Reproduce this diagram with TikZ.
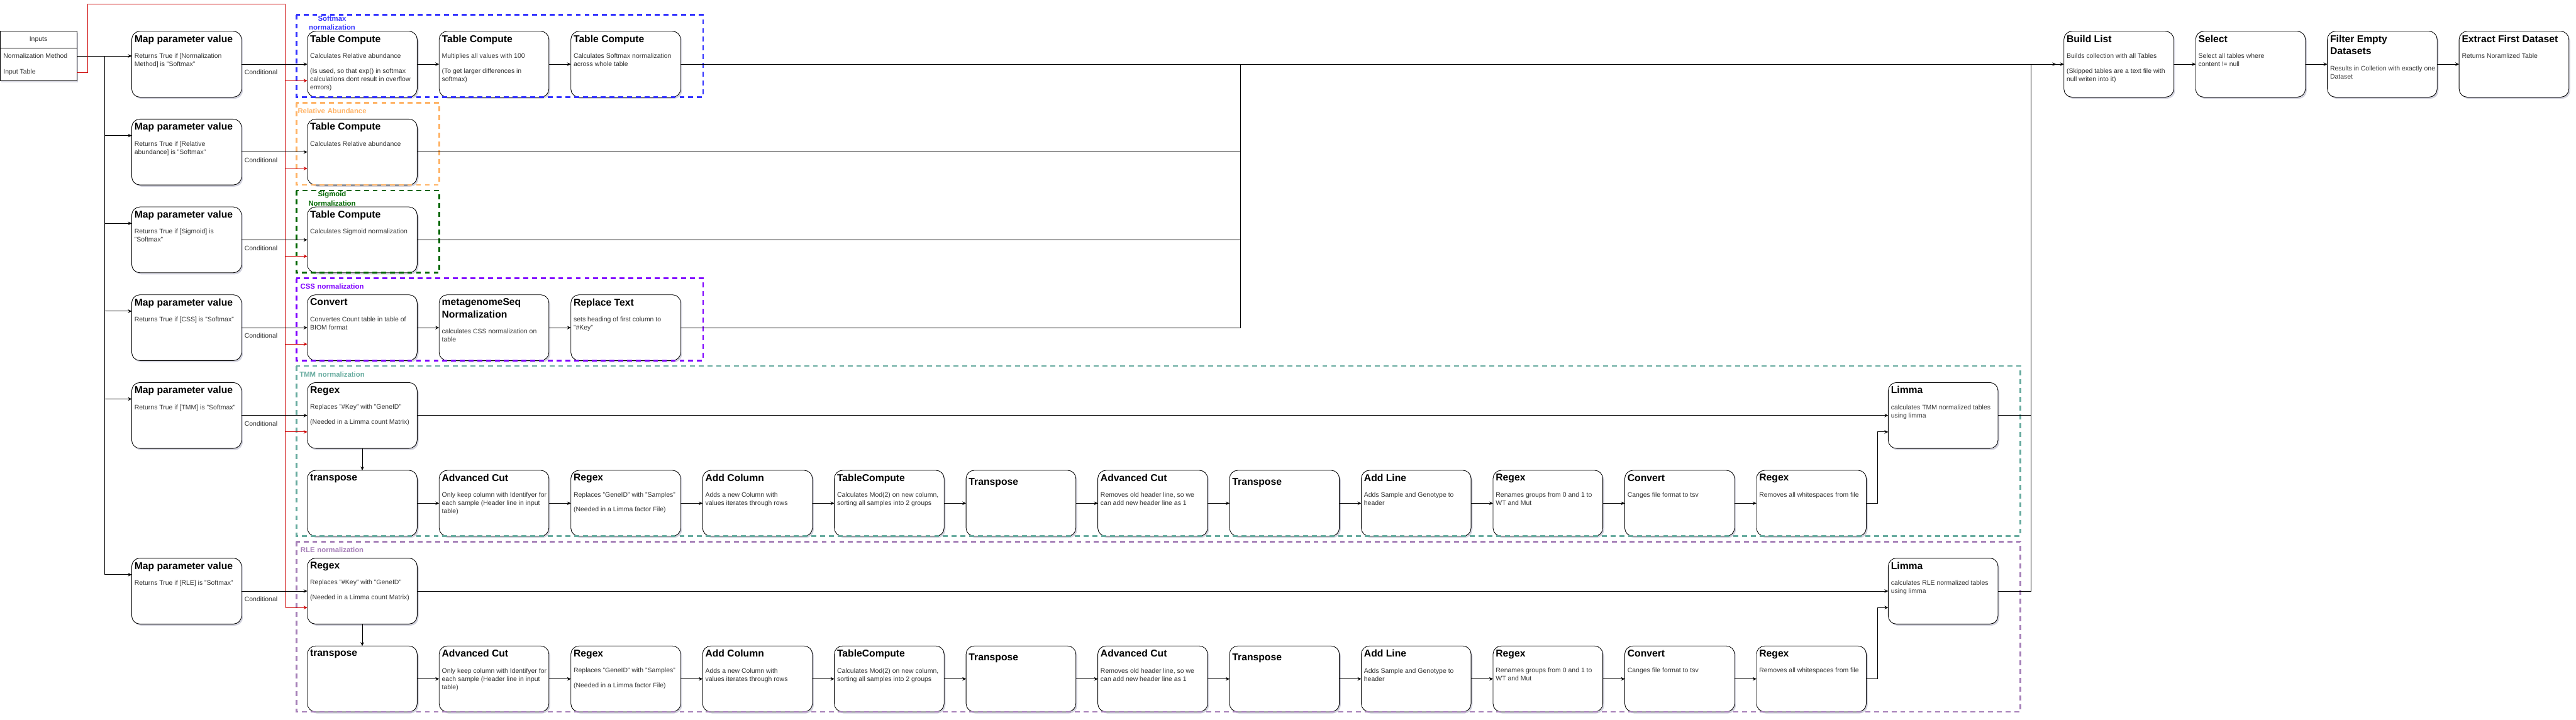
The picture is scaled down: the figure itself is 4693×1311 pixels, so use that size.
\documentclass[tikz,border=0pt]{standalone}
\usepackage{fontspec}
\setmainfont{Liberation Sans}
\usetikzlibrary{positioning, arrows.meta, shadows}
\definecolor{softcol}{HTML}{3333FF}
\definecolor{relcol}{HTML}{FFB366}
\definecolor{sigcol}{HTML}{006600}
\definecolor{csscol}{HTML}{7F00FF}
\definecolor{tmmcol}{HTML}{67AB9F}
\definecolor{rlecol}{HTML}{A680B8}
\definecolor{redcol}{HTML}{CC0000}
\newcommand{\ttlfont}{\fontsize{18}{22.5}\selectfont\bfseries}
\newcommand{\bdyfont}{\fontsize{12}{15}\selectfont\mdseries\color{black!80}}
\newcommand{\stage}[2]{\makebox[190pt][l]{\parbox[t][106pt][t]{220pt}{\raggedright\hyphenpenalty=10000 \ttlfont #1\par\vspace{14pt}\bdyfont #2}}}
\tikzset{
  stagebox/.style={draw, fill=white, rounded corners=15pt, line width=1pt,
    inner xsep=5pt, inner ysep=7pt, outer sep=0pt, anchor=north west,
    drop shadow={shadow xshift=2.5pt, shadow yshift=-3pt, opacity=.3, fill=blue!15!gray}},
  inbox/.style={draw, fill=white, line width=1pt, minimum width=140pt, minimum height=90pt,
    outer sep=0pt, anchor=north west,
    drop shadow={shadow xshift=2.5pt, shadow yshift=-3pt, opacity=.3, fill=blue!15!gray}},
  intext/.style={font=\fontsize{12}{14}\selectfont, text=black!80, inner sep=0pt, anchor=west},
  wire/.style={line width=1pt},
  flow/.style={wire, -{Stealth[length=7pt, width=6.5pt, inset=2.5pt]}},
  redflow/.style={flow, draw=redcol},
  condlabel/.style={font=\fontsize{12}{14}\selectfont, text=black!80, inner sep=0pt,
    anchor=north west, xshift=5pt, yshift=-10pt},
  grpframe/.style={line width=3pt, dash pattern=on 9pt off 7pt},
  grplabel/.style={font=\fontsize{13}{16.5}\selectfont\bfseries, text width=130pt,
    align=center, inner sep=0pt}
}

\begin{document}
\begin{tikzpicture}[x=1pt, y=-1pt]
  \useasboundingbox (0,0) rectangle (4693,1311);

  % inputs
  \node[inbox] (inputs) at (0,57) {};
  \draw[wire] (inputs.west |- 0,88) -- (inputs.east |- 0,88);
  \node[intext, anchor=center] (inhead) at (70,72) {Inputs};
  \node[intext] (normrow) at (6,102) {Normalization Method};
  \node[intext] (tabrow) at (6,132) {Input Table};

  % switches
  \node[stagebox] (map1) at (240,57) {\stage{Map parameter value}{Returns True if [Normalization\\Method] is "Softmax"}};
  \node[stagebox] (map2) at (240,217) {\stage{Map parameter value}{Returns True if [Relative\\abundance] is "Softmax"}};
  \node[stagebox] (map3) at (240,377) {\stage{Map parameter value}{Returns True if [Sigmoid] is\\"Softmax"}};
  \node[stagebox] (map4) at (240,537) {\stage{Map parameter value}{Returns True if [CSS] is "Softmax"}};
  \node[stagebox] (map5) at (240,697) {\stage{Map parameter value}{Returns True if [TMM] is "Softmax"}};
  \node[stagebox] (map6) at (240,1017) {\stage{Map parameter value}{Returns True if [RLE] is "Softmax"}};

  % softmax
  \node[stagebox] (soft1) at (560,57) {\stage{Table Compute}{Calculates Relative abundance\\[12pt](Is used, so that exp() in softmax\\calculations dont result in overflow\\errrors)}};
  \node[stagebox, right=40pt of soft1] (soft2) {\stage{Table Compute}{Multiplies all values with 100\\[12pt](To get larger differences in\\softmax)}};
  \node[stagebox, right=40pt of soft2] (soft3) {\stage{Table Compute}{Calculates Softmax normalization\\across whole table}};

  % relative abundance, sigmoid
  \node[stagebox] (rel1) at (560,217) {\stage{Table Compute}{Calculates Relative abundance}};
  \node[stagebox] (sig1) at (560,377) {\stage{Table Compute}{Calculates Sigmoid normalization}};

  % css
  \node[stagebox] (css1) at (560,537) {\stage{Convert}{Convertes Count table in table of\\BIOM format}};
  \node[stagebox, right=40pt of css1] (css2) {\stage{metagenomeSeq\\Normalization}{calculates CSS normalization on\\table}};
  \node[stagebox, right=40pt of css2] (css3) {\stage{Replace Text}{sets heading of first column to\\"\#Key"}};

  % tmm
  \node[stagebox] (tmmregex) at (560,697) {\stage{Regex}{Replaces "\#Key" with "GeneID"\\[12pt](Needed in a Limma count Matrix)}};
  \node[stagebox] (tmm0) at (560,857) {\stage{transpose}{}};
  \node[stagebox, right=40pt of tmm0] (tmm1) {\stage{Advanced Cut}{Only keep column with Identifyer for\\each sample (Header line in input\\table)}};
  \node[stagebox, right=40pt of tmm1] (tmm2) {\stage{Regex}{Replaces "GeneID" with "Samples"\\[12pt](Needed in a Limma factor File)}};
  \node[stagebox, right=40pt of tmm2] (tmm3) {\stage{Add Column}{Adds a new Column with\\values iterates through rows}};
  \node[stagebox, right=40pt of tmm3] (tmm4) {\stage{TableCompute}{Calculates Mod(2) on new column,\\sorting all samples into 2 groups}};
  \node[stagebox, right=40pt of tmm4] (tmm5) {\stage{\vspace*{7pt}Transpose}{}};
  \node[stagebox, right=40pt of tmm5] (tmm6) {\stage{Advanced Cut}{Removes old header line, so we\\can add new header line as 1}};
  \node[stagebox, right=40pt of tmm6] (tmm7) {\stage{\vspace*{7pt}Transpose}{}};
  \node[stagebox, right=40pt of tmm7] (tmm8) {\stage{Add Line}{Adds Sample and Genotype to\\header}};
  \node[stagebox, right=40pt of tmm8] (tmm9) {\stage{Regex}{Renames groups from 0 and 1 to\\WT and Mut}};
  \node[stagebox, right=40pt of tmm9] (tmm10) {\stage{Convert}{Canges file format to tsv}};
  \node[stagebox, right=40pt of tmm10] (tmm11) {\stage{Regex}{Removes all whitespaces from file}};
  \node[stagebox] (tmmlimma) at (3440,697) {\stage{Limma}{calculates TMM normalized tables\\using limma}};

  % rle
  \node[stagebox] (rleregex) at (560,1017) {\stage{Regex}{Replaces "\#Key" with "GeneID"\\[12pt](Needed in a Limma count Matrix)}};
  \node[stagebox] (rle0) at (560,1177) {\stage{transpose}{}};
  \node[stagebox, right=40pt of rle0] (rle1) {\stage{Advanced Cut}{Only keep column with Identifyer for\\each sample (Header line in input\\table)}};
  \node[stagebox, right=40pt of rle1] (rle2) {\stage{Regex}{Replaces "GeneID" with "Samples"\\[12pt](Needed in a Limma factor File)}};
  \node[stagebox, right=40pt of rle2] (rle3) {\stage{Add Column}{Adds a new Column with\\values iterates through rows}};
  \node[stagebox, right=40pt of rle3] (rle4) {\stage{TableCompute}{Calculates Mod(2) on new column,\\sorting all samples into 2 groups}};
  \node[stagebox, right=40pt of rle4] (rle5) {\stage{\vspace*{7pt}Transpose}{}};
  \node[stagebox, right=40pt of rle5] (rle6) {\stage{Advanced Cut}{Removes old header line, so we\\can add new header line as 1}};
  \node[stagebox, right=40pt of rle6] (rle7) {\stage{\vspace*{7pt}Transpose}{}};
  \node[stagebox, right=40pt of rle7] (rle8) {\stage{Add Line}{Adds Sample and Genotype to\\header}};
  \node[stagebox, right=40pt of rle8] (rle9) {\stage{Regex}{Renames groups from 0 and 1 to\\WT and Mut}};
  \node[stagebox, right=40pt of rle9] (rle10) {\stage{Convert}{Canges file format to tsv}};
  \node[stagebox, right=40pt of rle10] (rle11) {\stage{Regex}{Removes all whitespaces from file}};
  \node[stagebox] (rlelimma) at (3440,1017) {\stage{Limma}{calculates RLE normalized tables\\using limma}};

  % collect
  \node[stagebox] (build) at (3760,57) {\stage{Build List}{Builds collection with all Tables\\[12pt](Skipped tables are a text file with\\null writen into it)}};
  \node[stagebox, right=40pt of build] (select) {\stage{Select}{Select all tables where\\content != null}};
  \node[stagebox, right=40pt of select] (filter) {\stage{Filter Empty\\Datasets}{Results in Colletion with exactly one\\Dataset}};
  \node[stagebox, right=40pt of filter] (extract) {\stage{Extract First Dataset}{Returns Noramlized Table}};

  % group frames
  \draw[grpframe, draw=softcol] (540,27) rectangle (1281,177);
  \draw[grpframe, draw=relcol] (540,187) rectangle (800,337);
  \draw[grpframe, draw=sigcol] (540,347) rectangle (800,497);
  \draw[grpframe, draw=csscol] (540,507) rectangle (1281,657);
  \draw[grpframe, draw=tmmcol] (540,667) rectangle (3681,977);
  \draw[grpframe, draw=rlecol] (540,987) rectangle (3681,1297);
  \node[grplabel, text=softcol] (softlbl) at (605,42) {Softmax\\normalization};
  \node[grplabel, text=relcol] (rellbl) at (605,202) {Relative Abundance};
  \node[grplabel, text=sigcol] (siglbl) at (605,362) {Sigmoid\\Normalization};
  \node[grplabel, text=csscol] (csslbl) at (605,522) {CSS normalization};
  \node[grplabel, text=tmmcol] (tmmlbl) at (605,682) {TMM normalization};
  \node[grplabel, text=rlecol] (rlelbl) at (605,1002) {RLE normalization};

  % method parameter to the switches
  \draw[flow] (inputs.east |- normrow) -- (map1.west |- normrow);
  \coordinate (trunk) at (191,102);
  \foreach \m in {map2,map3,map4,map5,map6}
    \draw[flow] (trunk) |- ([yshift=30pt]\m.west);

  % input table to every first step
  \coordinate (redtop) at (520,7);
  \foreach \n in {soft1,rel1,sig1,css1,tmmregex,rleregex}{
    \coordinate (\n-in) at ([yshift=-30pt]\n.west);
    \draw[redflow] (redtop |- \n-in) -- (\n-in);
  }
  \draw[wire, draw=redcol] (inputs.east |- tabrow) -| (160,7) -- (redtop) -- (redtop |- rleregex-in);

  % switches to the methods
  \foreach \m/\n in {map1/soft1, map2/rel1, map3/sig1, map4/css1, map5/tmmregex, map6/rleregex}
    \draw[flow] (\m) -- node[condlabel, pos=0] {Conditional} (\n);

  % chains
  \foreach \a/\b in {soft1/soft2, soft2/soft3, css1/css2, css2/css3}
    \draw[flow] (\a) -- (\b);
  \foreach \row in {tmm,rle}{
    \draw[flow] (\row regex) -- (\row 0);
    \foreach \i [count=\j from 1] in {0,...,10}
      \draw[flow] (\row\i) -- (\row\j);
    \draw[flow] (\row regex) -- (\row limma);
    \draw[flow] (\row 11.east) -- ++(20,0) |- ([yshift=-30pt]\row limma.west);
  }

  % outputs
  \coordinate (joinA) at (2260,117);
  \coordinate (joinB) at (3700,117);
  \draw[flow] (soft3) -- (build);
  \foreach \n in {rel1,sig1,css3}
    \draw[wire] (\n.east) -| (joinA);
  \foreach \n in {tmmlimma,rlelimma}
    \draw[wire] (\n.east) -| (joinB);
  \draw[flow, shorten >=14pt] (joinB) -- (build.west);
  \foreach \a/\b in {build/select, select/filter, filter/extract}
    \draw[flow] (\a) -- (\b);
\end{tikzpicture}
\end{document}
